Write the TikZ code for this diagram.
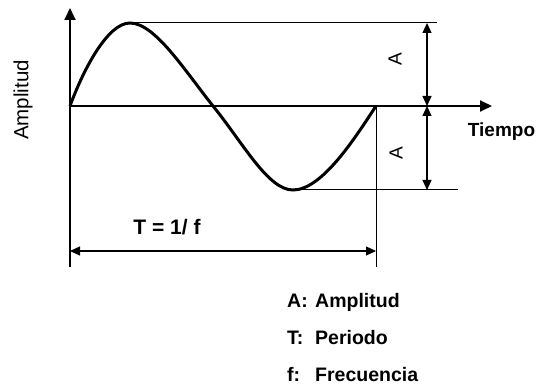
\documentclass[tikz,border=0pt]{standalone}
\usepackage{fontspec}
\setmainfont{Liberation Sans}
\usetikzlibrary{arrows.meta}
\tikzset{axis/.style={-{Triangle[length=12pt,width=11pt]},line width=1.8pt},
         dim/.style={{Triangle[length=10pt,width=9pt]}-{Triangle[length=10pt,width=9pt]},line width=1.2pt},
         guide/.style={line width=1pt},
         wave/.style={line width=3pt},
         lbl/.style={font=\fontsize{20}{22}\selectfont,inner sep=0pt},
         keylbl/.style={lbl,font=\fontsize{19.5}{22}\selectfont\bfseries,anchor=base west}}

\begin{document}
\begin{tikzpicture}[x=1pt,y=-1pt]
  \useasboundingbox (0,0) rectangle (537,387);
  % key points of the wave
  \coordinate (o) at (70,106);
  \coordinate (peak) at (130,23);
  \coordinate (zero) at (213,106);
  \coordinate (trough) at (293,190);
  \coordinate (end) at (376,106);
  \coordinate (ybot) at (70,267);
  \coordinate (ytop) at (70,8);
  \coordinate (xtip) at (492,106);
  \coordinate (topr) at (437,23);
  \coordinate (botr) at (458,190);
  \coordinate (endbot) at (376,267);
  % axes
  \draw[axis] (ybot) -- (ytop);
  \draw[axis] (o) -- (xtip);
  % guides
  \draw[guide] (peak) -- (topr);
  \draw[guide] (trough) -- (botr);
  \draw[guide] (end) -- (endbot);
  % amplitude and period
  \draw[dim] (427,23) coordinate (a1) -- (427,106) coordinate (a2);
  \draw[dim] (427,106) -- (427,190) coordinate (a3);
  \draw[dim] (70,251) coordinate (t1) -- (376,251) coordinate (t2);
  % the wave
  \draw[wave] (o) .. controls (84,68) and (108,23) .. (peak)
    .. controls (155,23) and (185,71) .. (zero)
    .. controls (243,143) and (268,190) .. (trough)
    .. controls (322,190) and (355,138) .. (end);
  % labels
  \node[lbl,font=\fontsize{20.5}{22}\selectfont,rotate=90] (amp) at (23,100) {Amplitud};
  \node[lbl,font=\fontsize{19}{22}\selectfont\bfseries,anchor=base] (tiempo) at (501.5,136.5) {Tiempo};
  \node[lbl,font=\fontsize{19}{22}\selectfont,rotate=90] (aup) at (395,59) {A};
  \node[lbl,font=\fontsize{19}{22}\selectfont,rotate=90] (adown) at (396,153.5) {A};
  \node[lbl,font=\fontsize{21}{22}\selectfont\bfseries] (period) at (167,227) {T = 1/ f};
  \foreach \k/\w [count=\i] in {A:/Amplitud,T:/Periodo,f:/Frecuencia}{
    \node[keylbl] (key\i) at (287,{307.5+(\i-1)*37}) {\k};
    \node[keylbl] (word\i) at (315,{307.5+(\i-1)*37}) {\w};
  }
\end{tikzpicture}
\end{document}
